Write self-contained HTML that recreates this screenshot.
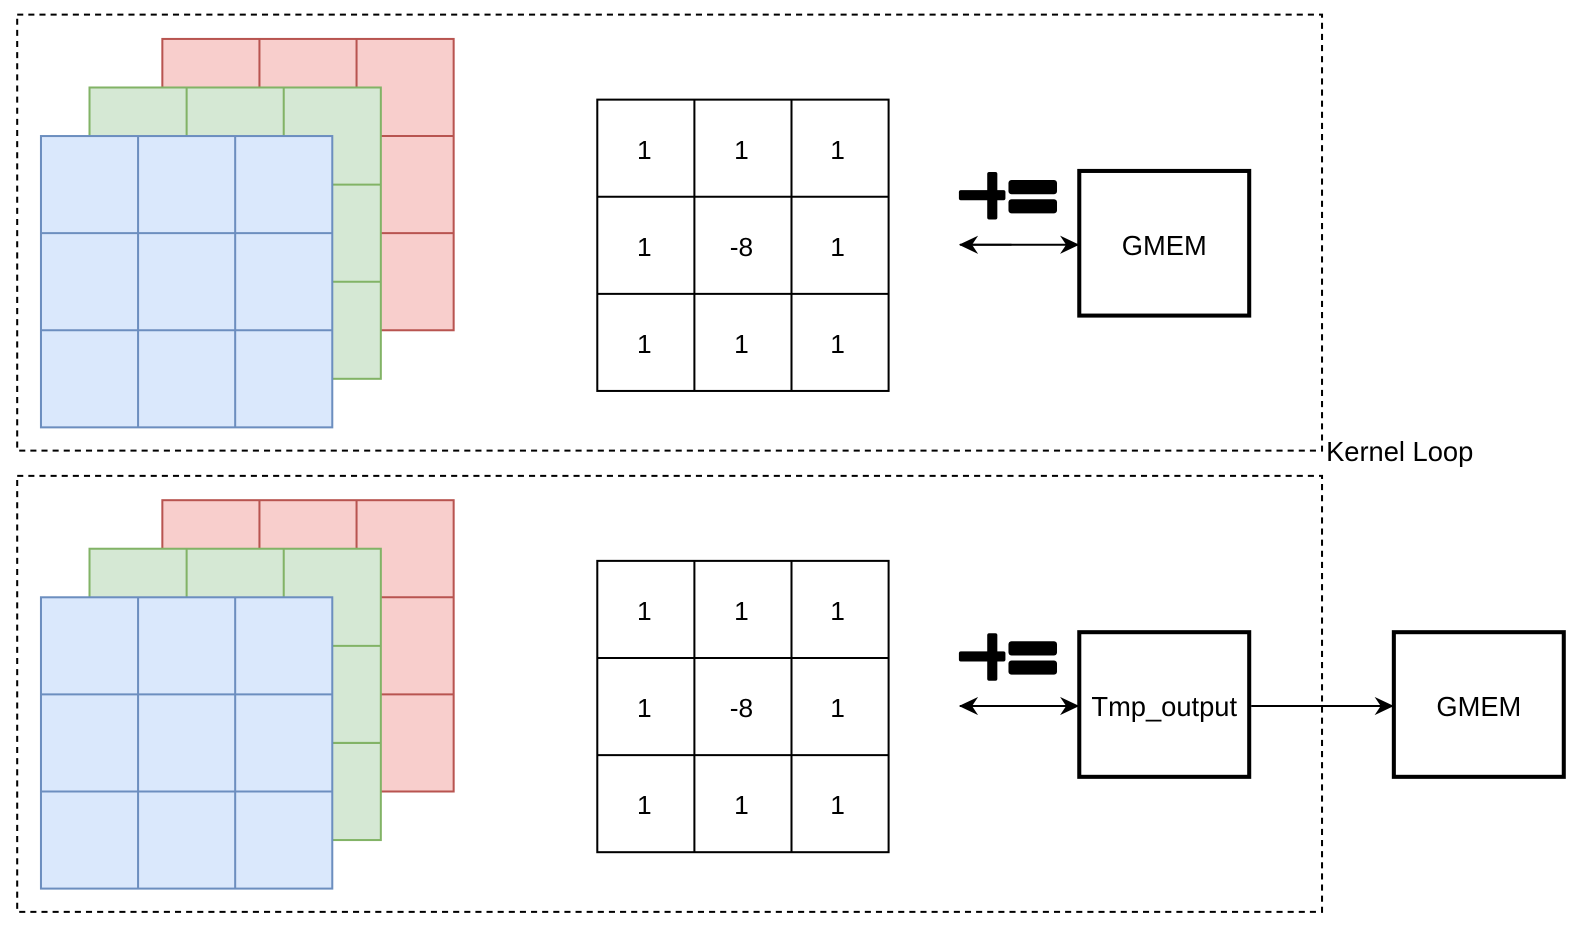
<!DOCTYPE html>
<html><head><meta charset="utf-8"><style>html,body{margin:0;padding:0;background:#fff}svg{display:block}</style></head>
<body>
<svg width="1586" height="952" xmlns="http://www.w3.org/2000/svg" font-family="Liberation Sans, sans-serif">
<defs>
<marker id="ah" markerWidth="20" markerHeight="20" refX="18" refY="9" orient="auto" markerUnits="userSpaceOnUse">
<path d="M0,0 L19,9 L0,18 L6,9 Z" fill="#000"/></marker>
<g id="half">
  <rect x="160.5" y="38.5" width="288" height="288" fill="#f8cecc" stroke="#b85450" stroke-width="2"/>
  <path d="M256.5 38.5V326.5M352.5 38.5V326.5M160.5 134.5H448.5M160.5 230.5H448.5" stroke="#b85450" stroke-width="2"/>
  <rect x="88.5" y="86.5" width="288" height="288" fill="#d5e8d4" stroke="#82b366" stroke-width="2"/>
  <path d="M184.5 86.5V374.5M280.5 86.5V374.5M88.5 182.5H376.5M88.5 278.5H376.5" stroke="#82b366" stroke-width="2"/>
  <rect x="40.5" y="134.5" width="288" height="288" fill="#dae8fc" stroke="#6c8ebf" stroke-width="2"/>
  <path d="M136.5 134.5V422.5M232.5 134.5V422.5M40.5 230.5H328.5M40.5 326.5H328.5" stroke="#6c8ebf" stroke-width="2"/>
  <rect x="590.5" y="98.5" width="288" height="288" fill="#fff" stroke="#000" stroke-width="2"/>
  <path d="M686.5 98.5V386.5M782.5 98.5V386.5M590.5 194.5H878.5M590.5 290.5H878.5" stroke="#000" stroke-width="2"/>
  <g font-size="26" text-anchor="middle" fill="#000">
    <text x="637" y="157">1</text><text x="733" y="157">1</text><text x="828" y="157">1</text>
    <text x="637" y="253">1</text><text x="733" y="253">-8</text><text x="828" y="253">1</text>
    <text x="637" y="349">1</text><text x="733" y="349">1</text><text x="828" y="349">1</text>
  </g>
  <rect x="948" y="188" width="46" height="10" rx="2" fill="#000"/>
  <rect x="976" y="170" width="10" height="47" rx="2" fill="#000"/>
  <rect x="997" y="178" width="48" height="14" rx="3" fill="#000"/>
  <rect x="997" y="197" width="48" height="14" rx="3" fill="#000"/>
  <line x1="962" y1="242" x2="1066" y2="242" stroke="#000" stroke-width="2" marker-end="url(#ah)"/>
  <line x1="1000" y1="242" x2="949" y2="242" stroke="#000" stroke-width="2" marker-end="url(#ah)"/>
</g>
</defs>
<g transform="scale(1.0115)">
<rect x="17" y="14.5" width="1290" height="431" fill="none" stroke="#000" stroke-width="2" stroke-dasharray="6,5"/>
<rect x="17" y="470.5" width="1290" height="431" fill="none" stroke="#000" stroke-width="2" stroke-dasharray="6,5"/>
<use href="#half"/>
<use href="#half" transform="translate(0,456)"/>
<rect x="1067" y="169" width="168" height="143" fill="#fff" stroke="#000" stroke-width="4"/>
<text x="1151" y="252" font-size="27" text-anchor="middle">GMEM</text>
<rect x="1067" y="625" width="168" height="143" fill="#fff" stroke="#000" stroke-width="4"/>
<text x="1151" y="708" font-size="27" text-anchor="middle">Tmp_output</text>
<line x1="1237" y1="698" x2="1377" y2="698" stroke="#000" stroke-width="2" marker-end="url(#ah)"/>
<rect x="1378" y="625" width="168" height="143" fill="#fff" stroke="#000" stroke-width="4"/>
<text x="1462" y="708" font-size="27" text-anchor="middle">GMEM</text>
<text x="1311" y="456" font-size="27">Kernel Loop</text>
</g>
</svg>
</body></html>
